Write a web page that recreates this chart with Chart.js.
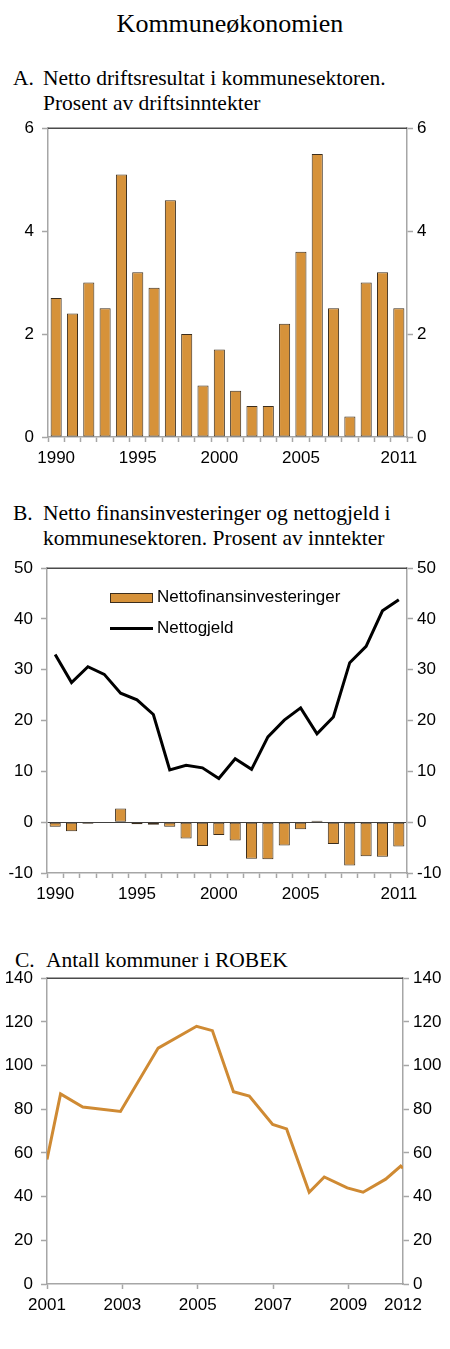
<!DOCTYPE html>
<html>
<head>
<meta charset="utf-8">
<script src="https://cdn.jsdelivr.net/npm/chart.js@4.4.0/dist/chart.umd.min.js"></script>
<style>
  body { margin:0; background:#fff; width:450px; height:1349px; position:relative; overflow:hidden; }
  .t { position:absolute; font-family:'Liberation Serif','Times New Roman',serif; color:#000; white-space:nowrap; }
  .main { font-size:26px; line-height:30px; left:0; width:460px; text-align:center; top:9px; }
  .sub { font-size:21.5px; line-height:25px; }
  canvas { position:absolute; left:0; }
  .leg { position:absolute; font-family:'Liberation Sans',Arial,sans-serif; font-size:17px; line-height:20px; color:#000; white-space:nowrap; }
</style>
</head>
<body>
<div class="t main">Kommuneøkonomien</div>

<div class="t sub" style="left:13px;top:66px">A.</div>
<div class="t sub" style="left:43px;top:66px">Netto driftsresultat i kommunesektoren.<br>Prosent av driftsinntekter</div>
<canvas id="chartA" width="450" height="360" style="top:110px"></canvas>

<div class="t sub" style="left:13px;top:501px">B.</div>
<div class="t sub" style="left:43px;top:501px">Netto finansinvesteringer og nettogjeld i<br>kommunesektoren. Prosent av inntekter</div>
<canvas id="chartB" width="450" height="360" style="top:550px"></canvas>
<div id="legB"></div>

<div class="t sub" style="left:15px;top:948px">C.</div>
<div class="t sub" style="left:46px;top:948px">Antall kommuner i ROBEK</div>
<canvas id="chartC" width="450" height="360" style="top:960px"></canvas>

<script>
// panel A / B categories
var years = ['1990','1991','1992','1993','1994','1995','1996','1997','1998','1999','2000',
             '2001','2002','2003','2004','2005','2006','2007','2008','2009','2010','2011'];
var shownYears = ['1990','1995','2000','2005','2011'];

// A: netto driftsresultat, prosent av driftsinntekter
var driftsresultat = [2.7, 2.4, 3.0, 2.5, 5.1, 3.2, 2.9, 4.6, 2.0, 1.0, 1.7,
                      0.9, 0.6, 0.6, 2.2, 3.6, 5.5, 2.5, 0.4, 3.0, 3.2, 2.5];

// B: nettofinansinvesteringer (bars) og nettogjeld (line)
var seriesNamesB = ['Nettofinansinvesteringer', 'Nettogjeld'];
var finansinv = [-0.9, -1.8, -0.3, 0, 2.7, -0.4, -0.5, -0.9, -3.2, -4.7, -2.5,
                 -3.6, -7.2, -7.3, -4.6, -1.4, 0.3, -4.3, -8.5, -6.7, -6.8, -4.8];
var nettogjeld = [33.0, 27.5, 30.6, 29.1, 25.4, 24.1, 21.2, 10.3, 11.2, 10.7, 8.6,
                  12.5, 10.4, 16.8, 20.1, 22.5, 17.4, 20.7, 31.4, 34.6, 41.6, 43.8];

// C: antall kommuner i ROBEK
var robekDates = [2001.0, 2001.36, 2001.95, 2002.95, 2003.95, 2004.97, 2005.39, 2005.95,
                  2006.37, 2006.99, 2007.36, 2007.96, 2008.36, 2008.97, 2009.39, 2009.99,
                  2010.39, 2010.45];
var robekCount = [57, 87, 81, 79, 108, 118, 116, 88, 86, 73, 71, 42, 49, 44, 42, 48, 54, 53];
var robekTicks = [2001, 2003, 2005, 2007, 2009];
var robekEndLabel = '2012';

var ORANGE = '#d6923a';
var BAR_EDGE = '#3b2d1c';
var GRAY = '#a6a6a6';

Chart.defaults.font.family = "'Liberation Sans', Arial, sans-serif";
Chart.defaults.font.size = 17;
Chart.defaults.color = '#000';
Chart.defaults.animation = false;

var topFrame = {
    id: 'topFrame',
    afterDraw: function(chart) {
        var a = chart.chartArea, c = chart.ctx;
        c.save();
        c.strokeStyle = '#4a4a4a';
        c.lineWidth = 1.5;
        c.beginPath();
        c.moveTo(a.left, a.top);
        c.lineTo(a.right, a.top);
        c.stroke();
        c.restore();
    }
};

function yAxis(pos, min, max, step, width, zeroLine) {
    return {
        position: pos,
        min: min,
        max: max,
        afterFit: function(s) { s.width = width; },
        border: { color: GRAY, width: 1.5 },
        grid: {
            drawOnChartArea: !!zeroLine,
            color: function(ctx) { return ctx.tick && ctx.tick.value === 0 ? '#404040' : 'rgba(0,0,0,0)'; },
            lineWidth: 1,
            tickLength: 6,
            tickColor: GRAY,
            tickWidth: 1.5
        },
        ticks: { stepSize: step, padding: pos === 'left' ? 8 : 4 }
    };
}

function yearAxis(height) {
    return {
        offset: true,
        afterFit: function(s) { s.height = height; },
        border: { color: GRAY, width: 1.5 },
        grid: { offset: true, drawOnChartArea: false, tickLength: 5, tickColor: GRAY, tickWidth: 1.5 },
        ticks: {
            autoSkip: false,
            maxRotation: 0,
            padding: 6,
            callback: function(v) {
                var l = this.getLabelForValue(v);
                return shownYears.indexOf(l) >= 0 ? l : '';
            }
        }
    };
}

// ---- A
new Chart(document.getElementById('chartA'), {
    type: 'bar',
    data: {
        labels: years,
        datasets: [{
            data: driftsresultat,
            backgroundColor: ORANGE,
            borderColor: BAR_EDGE,
            borderWidth: 1,
            borderSkipped: false,
            barPercentage: 0.68,
            categoryPercentage: 1.0
        }]
    },
    options: {
        responsive: false,
        layout: { padding: { top: 14, left: 0, right: 0, bottom: 0 } },
        plugins: { legend: { display: false }, tooltip: { enabled: false } },
        scales: {
            x: yearAxis(33),
            y: yAxis('left', 0, 6, 2, 48),
            y2: yAxis('right', 0, 6, 2, 43)
        }
    },
    plugins: [topFrame]
});

// ---- B
new Chart(document.getElementById('chartB'), {
    type: 'bar',
    data: {
        labels: years,
        datasets: [{
            type: 'line',
            label: seriesNamesB[1],
            data: nettogjeld,
            borderColor: '#000',
            borderWidth: 3,
            pointRadius: 0,
            tension: 0,
            order: 0
        }, {
            label: seriesNamesB[0],
            data: finansinv,
            backgroundColor: ORANGE,
            borderColor: BAR_EDGE,
            borderWidth: 1,
            borderSkipped: false,
            barPercentage: 0.68,
            categoryPercentage: 1.0,
            order: 1
        }]
    },
    options: {
        responsive: false,
        layout: { padding: { top: 15, left: 0, right: 0, bottom: 0 } },
        plugins: { legend: { display: false }, tooltip: { enabled: false } },
        scales: {
            x: yearAxis(37),
            y: yAxis('left', -10, 50, 10, 47, true),
            y2: yAxis('right', -10, 50, 10, 43)
        }
    },
    plugins: [topFrame]
});

// legend B (html)
var leg = document.getElementById('legB');
leg.innerHTML =
    '<div style="position:absolute;left:110px;top:593px;width:41px;height:8px;background:' + ORANGE + ';border:1px solid ' + BAR_EDGE + '"></div>' +
    '<div class="leg" style="left:157px;top:587px">' + seriesNamesB[0] + '</div>' +
    '<div style="position:absolute;left:110px;top:627px;width:43px;height:3px;background:#000"></div>' +
    '<div class="leg" style="left:157px;top:618px">' + seriesNamesB[1] + '</div>';

// ---- C
var robekEnd = robekDates[robekDates.length - 1];
new Chart(document.getElementById('chartC'), {
    type: 'line',
    data: {
        datasets: [{
            data: robekDates.map(function(d, i) { return { x: d, y: robekCount[i] }; }),
            borderColor: '#cf8a33',
            borderWidth: 3,
            pointRadius: 0,
            tension: 0
        }]
    },
    options: {
        responsive: false,
        layout: { padding: { top: 15, left: 0, right: 0, bottom: 0 } },
        plugins: { legend: { display: false }, tooltip: { enabled: false } },
        scales: {
            x: {
                type: 'linear',
                min: robekDates[0],
                max: robekEnd,
                afterFit: function(s) { s.height = 36; },
                afterBuildTicks: function(s) {
                    s.ticks = robekTicks.concat([robekEnd]).map(function(v) { return { value: v }; });
                },
                border: { color: GRAY, width: 1.5 },
                grid: {
                    drawOnChartArea: false,
                    tickLength: 5,
                    tickWidth: 1.5,
                    tickColor: function(ctx) { return ctx.tick && ctx.tick.value === robekEnd ? 'rgba(0,0,0,0)' : GRAY; }
                },
                ticks: {
                    autoSkip: false,
                    maxRotation: 0,
                    padding: 6,
                    callback: function(v) { return v === robekEnd ? robekEndLabel : String(v); }
                }
            },
            y: yAxis('left', 0, 140, 20, 47),
            y2: yAxis('right', 0, 140, 20, 47)
        }
    },
    plugins: [topFrame]
});
</script>
</body>
</html>
